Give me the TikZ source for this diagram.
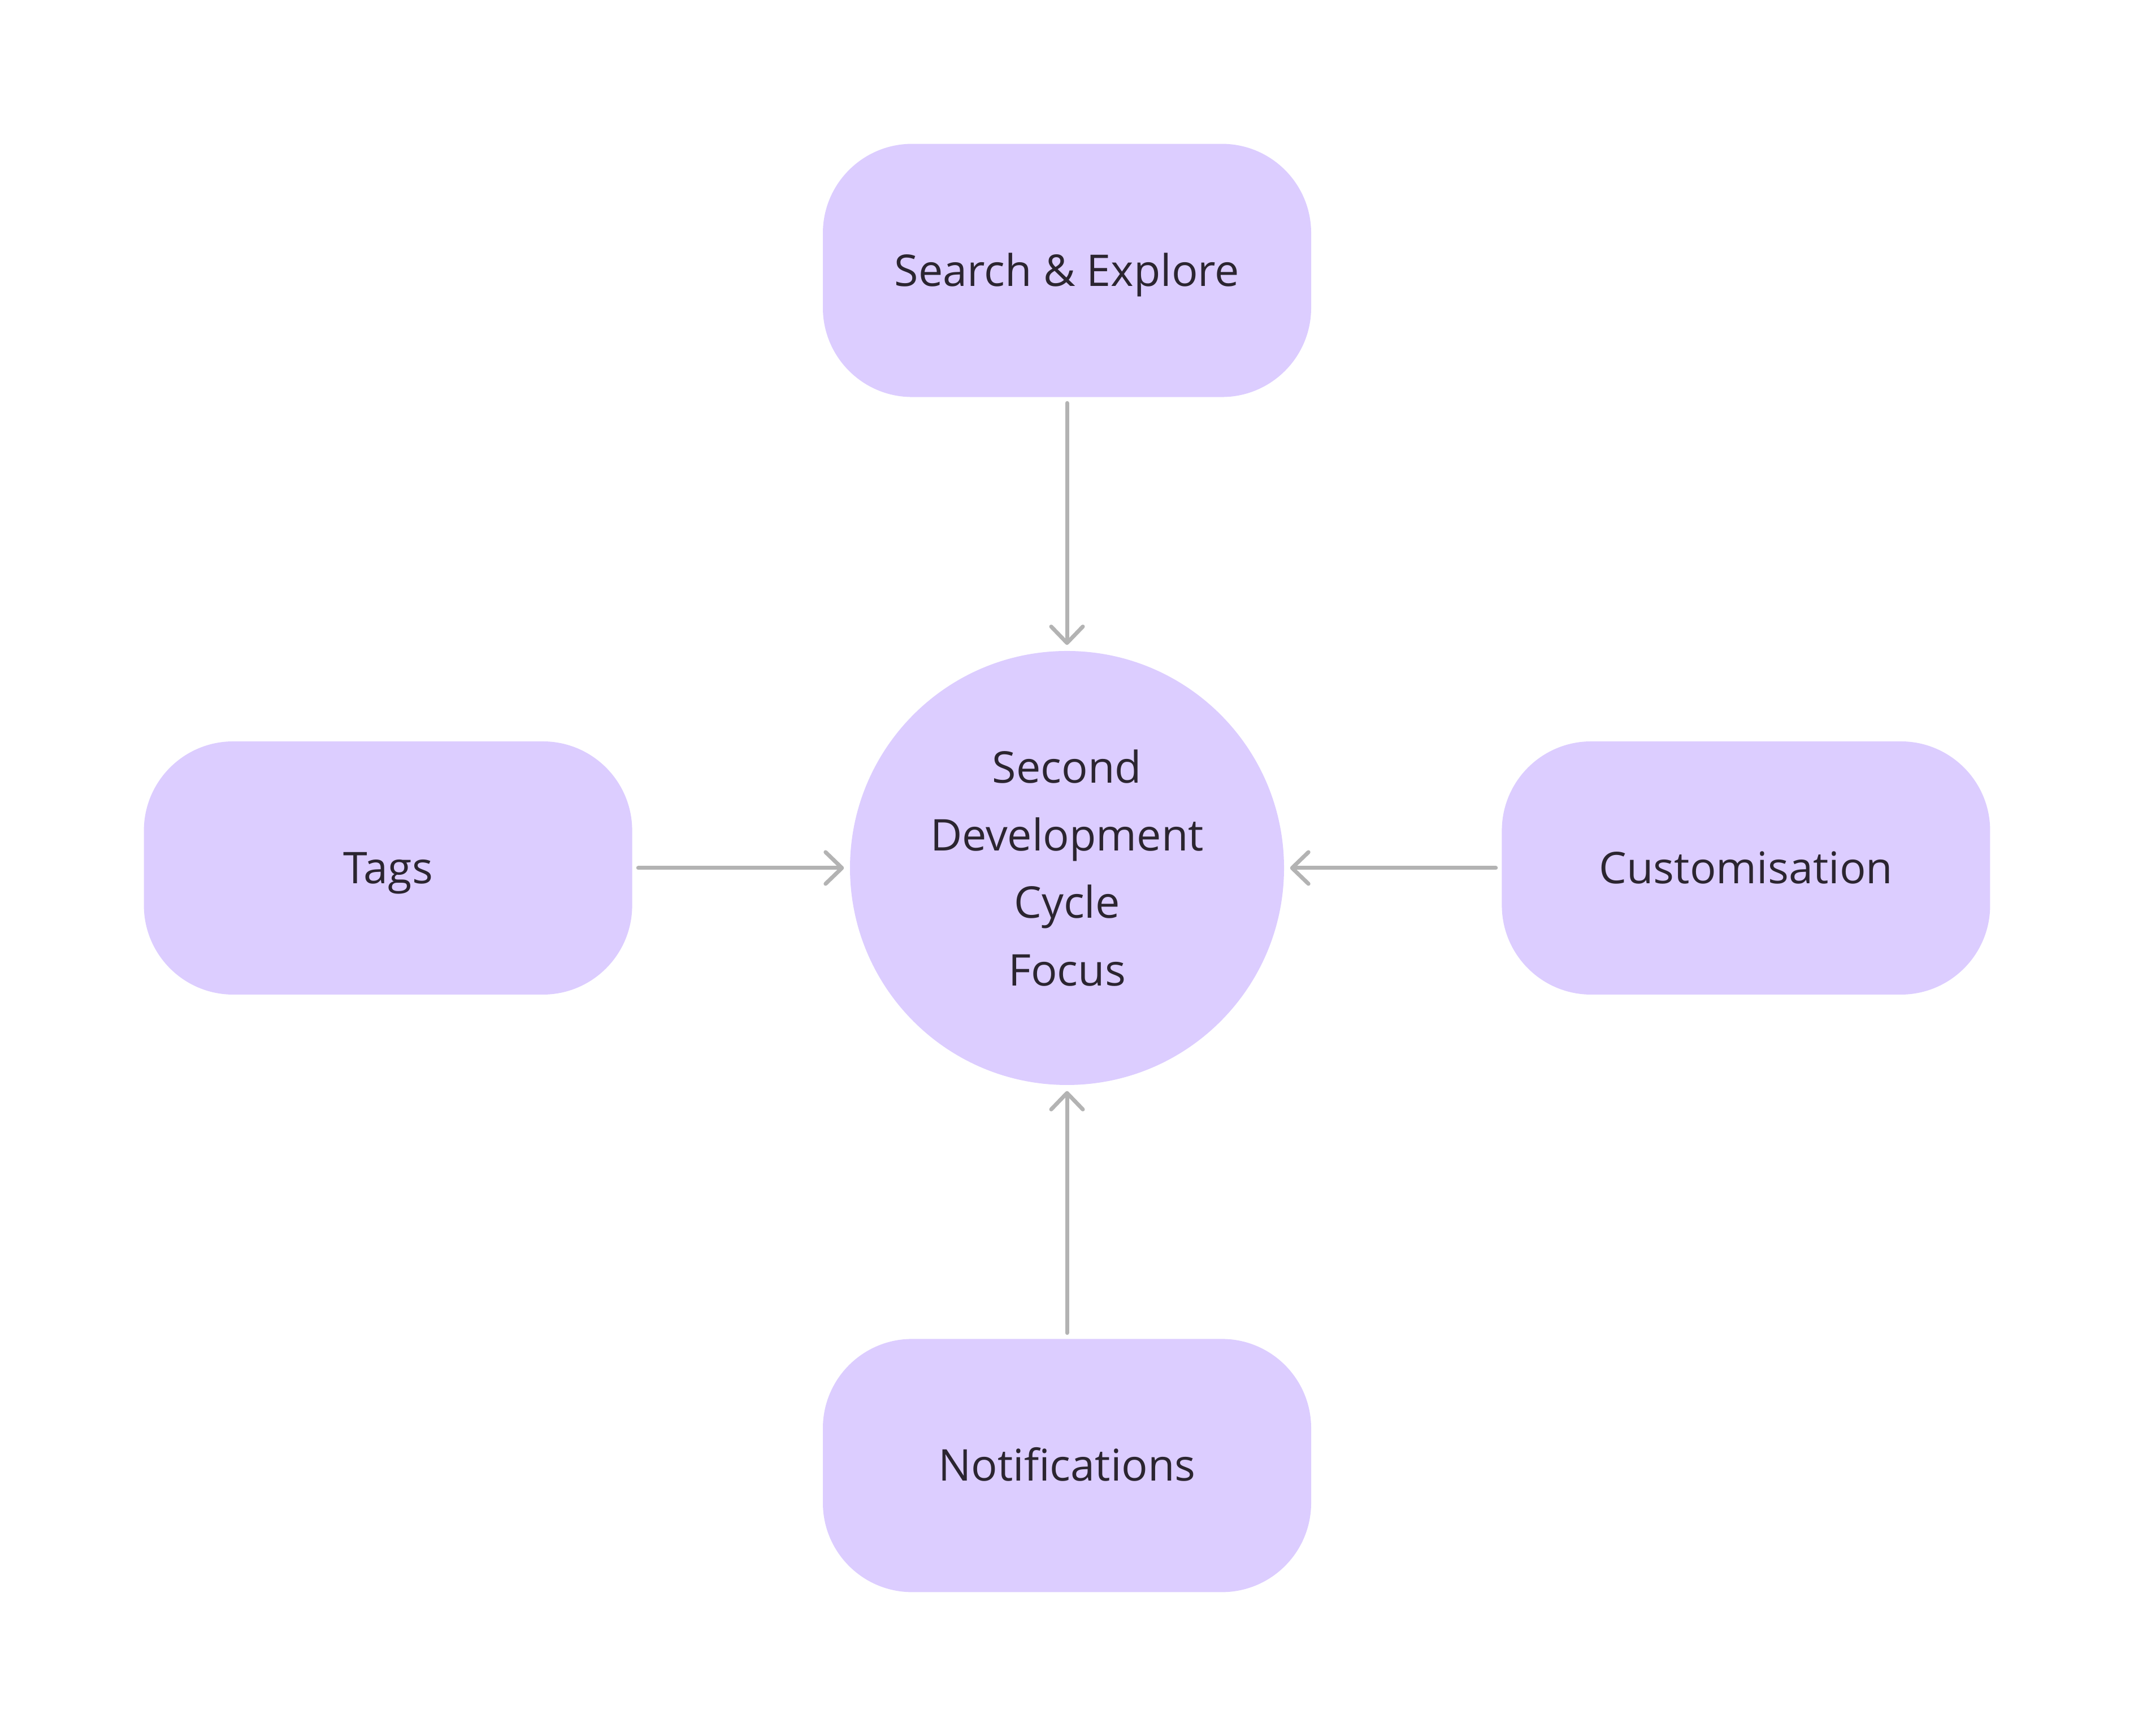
\documentclass[tikz,border=0pt]{standalone}
\usepackage{fontspec}
\setsansfont{Open Sans}
\usetikzlibrary{positioning,arrows.meta}
\definecolor{lilac}{HTML}{DCCDFF}
\definecolor{ink}{HTML}{2B2530}
\definecolor{wire}{HTML}{B3B3B3}
\tikzset{font=\sffamily\fontsize{22}{34}\selectfont}
\tikzset{
  feature/.style={rectangle, rounded corners=15.8mm, fill=lilac, text=ink,
    minimum width=86.4mm, minimum height=44.8mm, inner sep=0pt,
    text height=15.7pt, text depth=0pt},
  focus/.style={circle, fill=lilac, text=ink, minimum size=76.8mm,
    inner sep=0pt, align=center},
  flow/.style={draw=wire, line width=0.7mm, line cap=round,
    -{Straight Barb[length=2.9mm, width=5.6mm, line join=round, line cap=round]},
    shorten <=1mm, shorten >=1mm}
}

\begin{document}
\begin{tikzpicture}[auto,node distance=44.8mm and 38.4mm]
    \useasboundingbox (0,0) rectangle (377.6mm,307.2mm);
    \node[focus] (focus) at (188.8mm,153.6mm) {Second\\Development\\Cycle\\Focus};

    \node[feature] (search) [above= of focus] {Search \& Explore} edge[flow] (focus);
    \node[feature] (tags) [left= of focus] {Tags} edge[flow] (focus);
    \node[feature] (custom) [right= of focus] {Customisation} edge[flow] (focus);
    \node[feature] (notify) [below= of focus] {Notifications} edge[flow] (focus);
\end{tikzpicture}
\end{document}
